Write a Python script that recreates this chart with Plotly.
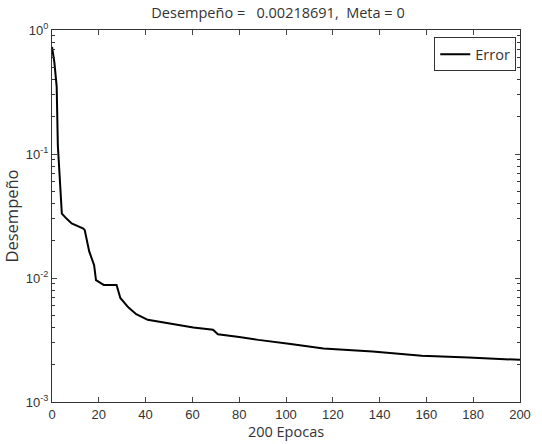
import plotly.graph_objects as go

epochs = [0, 1.0, 2.0, 2.5, 3.6, 4.2, 6.3, 8.4, 13.4, 14.0, 15.9, 18.0, 18.8, 22.1, 27.6, 29.2,
          32.6, 36.0, 40.9, 49.3, 60.4, 68.8, 70.9, 80.0, 88.2, 102, 116, 137, 158, 178, 195.7, 200]
perf = [0.73, 0.55, 0.35, 0.117, 0.052, 0.033, 0.030, 0.0275, 0.025, 0.0243, 0.0164, 0.0127,
        0.0096, 0.0088, 0.0088, 0.0069, 0.0058, 0.0051, 0.0046, 0.00431, 0.00398, 0.00382,
        0.00352, 0.00335, 0.00317, 0.00293, 0.0027, 0.00255, 0.00236, 0.00228, 0.00222, 0.00218691]

ytick_vals = [1e-3, 1e-2, 1e-1, 1]
ytick_text = ["10<sup>-3</sup>", "10<sup>-2</sup>", "10<sup>-1</sup>", "10<sup>0</sup>"]
xtick_vals = list(range(0, 201, 20))
minor_vals = [m * 10 ** e for e in (-3, -2, -1) for m in range(2, 10)]

fig = go.Figure()
fig.add_trace(go.Scatter(x=epochs, y=perf, mode="lines", name="Error",
                         line=dict(color="black", width=2)))

tickfont = dict(family="Liberation Sans, Arial, sans-serif", size=13, color="#333333")
textfont = dict(family="Open Sans, sans-serif", size=14.5, color="#333333")
fig.update_layout(
    width=542, height=444,
    margin=dict(l=52, r=11, t=30, b=39),
    paper_bgcolor="white", plot_bgcolor="white",
    title=dict(text="Desempeño =   0.00218691,  Meta = 0", x=0.513, xanchor="center",
               y=0.972, yanchor="middle", font=textfont),
    xaxis=dict(range=[0, 200], tickvals=xtick_vals, ticks="inside", ticklen=5,
               showline=True, linecolor="#333333", linewidth=1, mirror="allticks",
               showgrid=False, zeroline=False, tickfont=tickfont,
               title=dict(text="200 Epocas", standoff=1, font=textfont)),
    yaxis=dict(type="log", range=[-3, 0], tickvals=ytick_vals, ticktext=ytick_text,
               ticks="inside", ticklen=5, showline=True, linecolor="#333333", linewidth=1,
               mirror="allticks", showgrid=False, zeroline=False, tickfont=tickfont,
               minor=dict(tickmode="array", tickvals=minor_vals, ticks="inside", ticklen=3,
                          tickcolor="#333333", showgrid=False),
               title=dict(text="Desempeño", standoff=3,
                          font=dict(family="Open Sans, sans-serif", size=16.5, color="#333333"))),
    legend=dict(x=0.992, y=0.98, xanchor="right", yanchor="top",
                bgcolor="white", bordercolor="#333333", borderwidth=1,
                font=textfont),
    showlegend=True,
)

fig.write_html("out.html")
